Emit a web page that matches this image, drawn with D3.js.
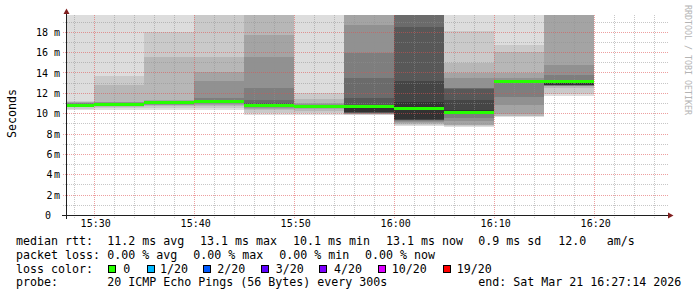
<!DOCTYPE html>
<html><head><meta charset="utf-8">
<script src="https://cdn.jsdelivr.net/npm/d3@7/dist/d3.min.js"></script>
<style>
html,body{margin:0;padding:0;background:#fff;overflow:hidden;}
svg text{font-family:"DejaVu Sans Mono",monospace;}
</style></head><body>
<svg id="c" width="697" height="297"></svg>
<script>
// ---------------- data ----------------
const windowStart = "15:27:14";
const windowEnd = "16:27:14";
const stepSeconds = 300;
const intervalStarts = ["15:25:00","15:30:00","15:35:00","15:40:00","15:45:00","15:50:00",
                        "15:55:00","16:00:00","16:05:00","16:10:00","16:15:00"];
const medianMs = [10.80,10.87,11.03,11.17,10.79,10.64,10.69,10.48,10.08,13.10,13.08];
const lossCount = [0,0,0,0,0,0,0,0,0,0,0];
// 20 sorted ping times (ms) per interval; values above the axis top are clipped
const pings = [
  [10.30,10.45,10.58,10.65,10.70,10.73,10.76,10.78,10.79,10.80,10.82,10.85,10.88,10.92,10.96,11.00,11.05,11.10,11.20,22],
  [10.31,10.50,10.65,10.74,10.79,10.82,10.84,10.85,10.86,10.87,10.88,10.90,10.93,10.97,11.02,11.08,11.13,12.77,13.65,22],
  [10.31,10.50,10.66,10.76,10.85,10.90,10.95,10.98,11.00,11.02,11.04,11.06,11.09,11.12,11.16,11.22,11.30,15.52,17.93,22],
  [10.31,10.50,10.70,10.82,10.92,10.98,11.03,11.08,11.12,11.15,11.18,11.21,11.25,11.30,11.46,13.19,14.08,15.55,22,22],
  [9.82,10.00,10.31,10.45,10.55,10.62,10.68,10.72,10.75,10.78,10.82,10.90,11.00,11.30,12.45,15.55,17.68,22,22,22],
  [9.85,10.05,10.25,10.40,10.50,10.55,10.58,10.61,10.63,10.64,10.66,10.68,10.71,10.75,10.80,10.88,11.00,11.35,11.95,22],
  [9.82,9.85,9.88,9.91,9.95,9.98,10.02,10.06,10.10,10.15,10.74,10.76,11.46,13.43,15.88,18.66,22,22,22,22],
  [8.74,8.84,8.94,9.04,9.14,9.24,9.28,9.32,9.36,9.40,11.13,13.19,18.44,22,22,22,22,22,22,22],
  [8.64,8.70,8.80,8.84,9.23,9.50,9.92,9.94,9.97,10.00,10.31,11.30,12.41,12.43,12.45,13.43,13.92,14.90,18.07,22],
  [9.62,9.68,9.72,9.92,10.81,11.62,12.95,13.00,13.04,13.08,13.11,13.12,13.14,13.16,13.19,13.43,13.92,16.04,16.70,22],
  [11.69,11.91,12.45,12.62,12.70,12.71,12.72,12.73,12.74,12.80,13.10,13.18,13.22,13.26,13.75,14.73,22,22,22,22]
];
const yMax = 19.64;
const yTicks = [0,2,4,6,8,10,12,14,16,18];
const yUnit = "m";
const yTitle = "Seconds";
const watermark = "RRDTOOL / TOBI OETIKER";

const rttLabel = "median rtt:";
const rttStats = ["11.2 ms avg","13.1 ms max","10.1 ms min","13.1 ms now","0.9 ms sd","12.0","am/s"];
const lossLabel = "packet loss:";
const lossStats = ["0.00 % avg","0.00 % max","0.00 % min","0.00 % now"];
const colorLabel = "loss color:";
const lossLegend = ["0","1/20","2/20","3/20","4/20","10/20","19/20"];
const lossColors = ["#26ff00","#00b8ff","#0059ff","#5e00ff","#7e00ff","#dd00ff","#ff0000"];
const probeLabel = "probe:";
const probeText = "20 ICMP Echo Pings (56 Bytes) every 300s";
const endText = "end: Sat Mar 21 16:27:14 2026";

// ---------------- layout ----------------
const X0 = 66, X1 = 666, Y0 = 215, Y1 = 15;
const LX = 16, FS = 11.63;
const rttX = [107.3,200,293,386,478.3,558.3,606.7];
const lossX = [107.3,193.3,279.3,365];
const swatchX = [108.3,146.7,203.3,261,319.3,377.7,442.7];
const swatchTextX = [123.3,160,217.3,275.7,334,391.7,456.7];
const lineY = [245,258.7,272.5,286.3];

const svg = d3.select("#c");
const parseT = d3.timeParse("%H:%M:%S");
const tStart = parseT(windowStart), tEnd = parseT(windowEnd);
const x = d3.scaleTime().domain([tStart, tEnd]).range([X0, X1]);
const y = d3.scaleLinear().domain([0, yMax]).range([Y0, Y1]);

svg.append("defs").append("clipPath").attr("id","pc")
  .append("rect").attr("x",X0).attr("y",Y1).attr("width",X1-X0).attr("height",Y0-Y1);

// smoke
const smokeGray = b => { const c = 19*(10-b)+50; return d3.rgb(c,c,c).formatHex(); };
const gS = svg.append("g").attr("clip-path","url(#pc)").attr("shape-rendering","crispEdges");
intervalStarts.forEach((s,i) => {
  const t0 = parseT(s), t1 = d3.timeSecond.offset(t0, stepSeconds);
  const p = pings[i];
  for (let b = 1; b <= 10; b++) {
    const lo = p[b-1], hi = p[20-b];
    gS.append("rect")
      .attr("x", x(t0)).attr("width", x(t1)-x(t0))
      .attr("y", y(hi)).attr("height", y(lo)-y(hi))
      .attr("fill", smokeGray(b));
  }
});

// grid
const gG = svg.append("g").attr("shape-rendering","crispEdges");
const minorCol = "rgba(143,143,143,0.5)", majorCol = "rgba(222,80,80,0.55)";
d3.range(1, Math.floor(yMax)+1).forEach(v => {
  const yy = Math.round(y(v)) + 0.5;
  gG.append("line").attr("x1",63).attr("x2",669).attr("y1",yy).attr("y2",yy)
    .attr("stroke", v % 2 === 0 ? majorCol : minorCol).attr("stroke-dasharray","1,1");
});
d3.timeMinute.every(2).range(tStart, tEnd).forEach(t => {
  const xx = Math.round(x(t)) + 0.5;
  const major = t.getMinutes() % 10 === 0;
  gG.append("line").attr("x1",xx).attr("x2",xx).attr("y1",Y1).attr("y2",Y0+3)
    .attr("stroke", major ? majorCol : minorCol).attr("stroke-dasharray","1,1");
});

// median bars
const gM = svg.append("g").attr("clip-path","url(#pc)").attr("shape-rendering","crispEdges");
intervalStarts.forEach((s,i) => {
  const t0 = parseT(s), t1 = d3.timeSecond.offset(t0, stepSeconds);
  gM.append("rect").attr("x", x(t0)).attr("width", x(t1)-x(t0))
    .attr("y", y(medianMs[i]) - 1.5).attr("height", 3)
    .attr("fill", lossColors[lossCount[i]]);
});

// axes lines
const axisCol = "#1f1f1f", arrowCol = "#801f1f";
svg.append("line").attr("x1",62).attr("x2",669).attr("y1",Y0+0.5).attr("y2",Y0+0.5)
  .attr("stroke",axisCol).attr("shape-rendering","crispEdges");
svg.append("line").attr("x1",X0+0.5).attr("x2",X0+0.5).attr("y1",Y0+4).attr("y2",12)
  .attr("stroke",axisCol).attr("shape-rendering","crispEdges");
svg.append("path").attr("d","M668,212.5L668,218.5L673.5,215.5Z").attr("fill",arrowCol);
svg.append("path").attr("d","M63.5,14L69.5,14L66.5,8.5Z").attr("fill",arrowCol);

// x axis labels
const gx = svg.append("g").attr("transform",`translate(0,${Y0})`)
  .call(d3.axisBottom(x).tickValues(d3.timeMinute.every(10).range(tStart, tEnd))
        .tickFormat(d3.timeFormat("%H:%M")).tickSize(0).tickPadding(4.6));
gx.select(".domain").remove();
gx.selectAll("text").attr("font-family","DejaVu Sans Mono").attr("font-size",10).attr("dx",1.5).attr("fill","#000");

// y axis labels
const gy = svg.append("g").attr("transform",`translate(${X0},0)`)
  .call(d3.axisLeft(y).tickValues(yTicks).tickSize(0).tickPadding(6).tickFormat(d => d));
gy.select(".domain").remove();
gy.selectAll("text").attr("font-family","DejaVu Sans Mono").attr("font-size",10)
  .attr("dy","0.36em").attr("fill","#000")
  .each(function(d){
    const t = d3.select(this);
    if (d === 0) { t.attr("x",-15).text("0"); }
    else if (d < 10) { t.text(d); t.append("tspan").attr("dx",1.5).text(yUnit); }
    else { t.text(d + " " + yUnit); }
  });

// y title
svg.append("text").attr("transform","translate(15.5,113.5) rotate(-90)")
  .attr("text-anchor","middle").attr("font-size",FS).attr("fill","#000").text(yTitle);

// watermark
svg.append("text").attr("transform","translate(684.5,5) rotate(90)")
  .attr("font-size",8.3).attr("fill","#b4b4b4").text(watermark);

// legend
const gL = svg.append("g").attr("font-size",FS).attr("fill","#000");
gL.append("text").attr("x",LX).attr("y",lineY[0]).text(rttLabel);
rttStats.forEach((s,i)=> gL.append("text").attr("x",rttX[i]).attr("y",lineY[0]).text(s));
gL.append("text").attr("x",LX).attr("y",lineY[1]).text(lossLabel);
lossStats.forEach((s,i)=> gL.append("text").attr("x",lossX[i]).attr("y",lineY[1]).text(s));
gL.append("text").attr("x",LX).attr("y",lineY[2]).text(colorLabel);
lossLegend.forEach((s,i)=>{
  gL.append("rect").attr("x",swatchX[i]+0.5).attr("y",lineY[2]-7.5).attr("width",7).attr("height",7)
    .attr("fill",lossColors[i]).attr("stroke","#000").attr("stroke-width",1).attr("shape-rendering","crispEdges");
  gL.append("text").attr("x",swatchTextX[i]).attr("y",lineY[2]).text(s);
});
gL.append("text").attr("x",LX).attr("y",lineY[3]).text(probeLabel);
gL.append("text").attr("x",107.3).attr("y",lineY[3]).text(probeText);
gL.append("text").attr("x",478.3).attr("y",lineY[3]).text(endText);
</script>
</body></html>
